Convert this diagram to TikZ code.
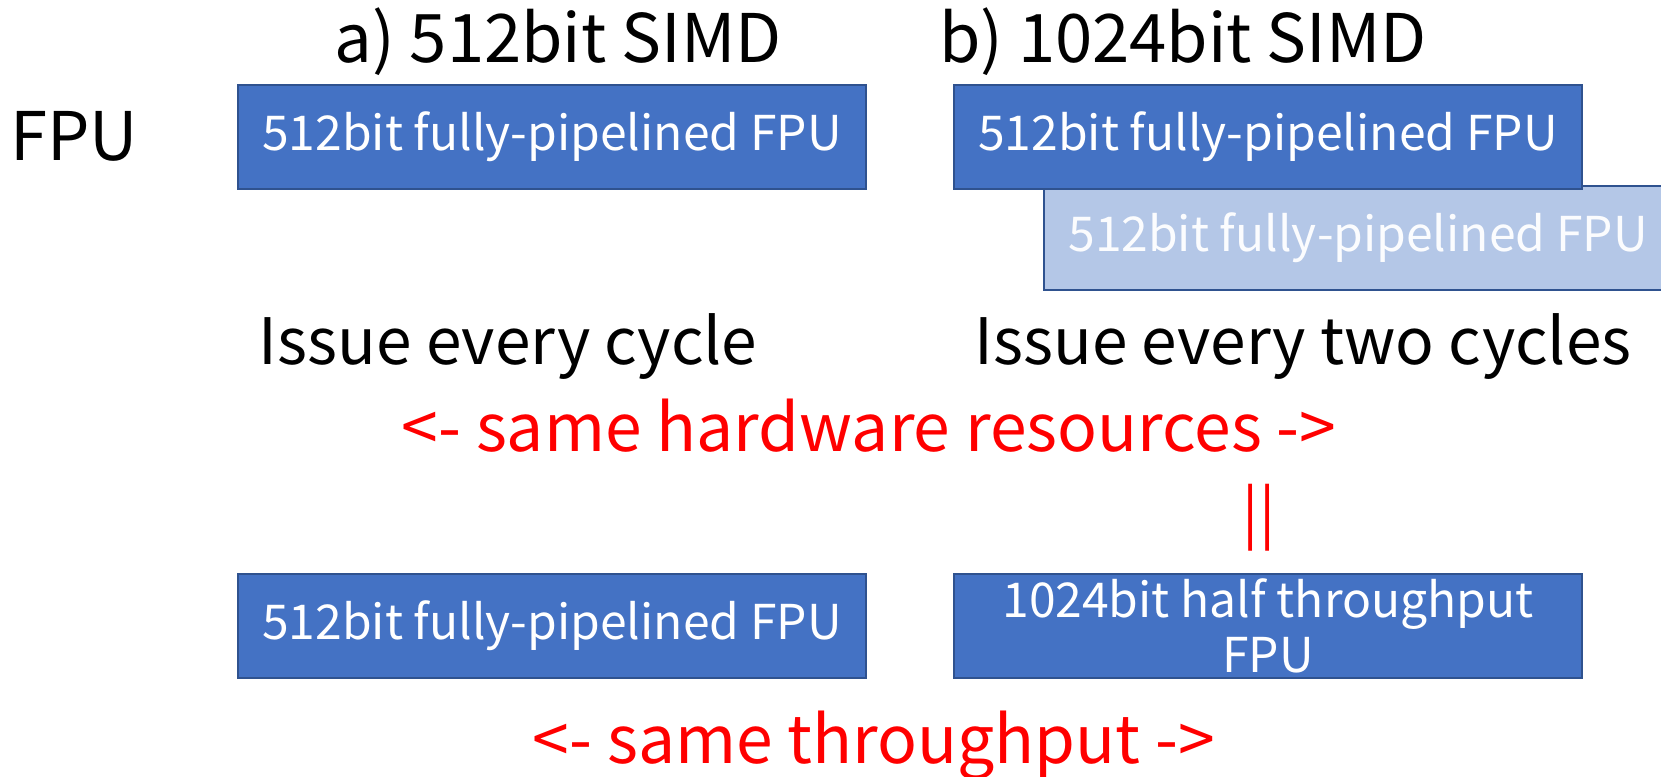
\documentclass[tikz,border=0pt]{standalone}
\usepackage{fontspec}
\setmainfont{Noto Sans CJK JP}
\usepackage{xcolor}
\usetikzlibrary{positioning}
\definecolor{fpublue}{HTML}{4472C4}
\definecolor{fpuedge}{HTML}{2F528F}
\definecolor{fpulight}{HTML}{B4C7E7}

\begin{document}
\begin{tikzpicture}[x=1pt, y=-1pt,
		fpubox/.style={draw=fpuedge, line width=2pt, fill=fpublue, text=white, minimum width=628pt, minimum height=104pt, inner sep=0pt, align=center, font=\fontsize{48}{55}\selectfont},
		fpuback/.style={fpubox, fill=fpulight, text=white!95!fpulight},
		title/.style={text=black, inner sep=0pt, font=\fontsize{67}{70}\selectfont},
		caption/.style={text=black, inner sep=0pt, font=\fontsize{64}{68}\selectfont},
		note/.style={text=red, inner sep=0pt, font=\fontsize{66}{70}\selectfont}]
		\useasboundingbox (0,0) rectangle (1661,776);
		\node[title] (fpulabel) at (74,136) {FPU};
		\node[title] (titleA) at (558,42) {a) 512bit SIMD};
		\node[title] (titleB) at (1183,42) {b) 1024bit SIMD};
		
		\node[fpubox] (fpuA) at (552,137) {512bit fully-pipelined FPU};
		\node[fpuback] (fpuBsecond) at (1358,238) {512bit fully-pipelined FPU};
		\node[fpubox] (fpuBfirst) at (1268,137) {512bit fully-pipelined FPU};
		
		\node[caption] (issueA) at (508,347) {Issue every cycle};
		\node[caption] (issueB) at (1303,347) {Issue every two cycles};
		\node[note] (samehw) at (869,426) {<- same hardware resources ->};
		\node[note, font=\fontsize{60}{60}\selectfont] (equiv) at (1259,518) {||};
		
		\node[fpubox] (fpuAequiv) at (552,626) {512bit fully-pipelined FPU};
		\node[fpubox] (fpuBequiv) at (1268,626) {1024bit half throughput\\FPU};
		\node[note] (sametp) at (874,745) {<- same throughput ->};
\end{tikzpicture}
\end{document}
